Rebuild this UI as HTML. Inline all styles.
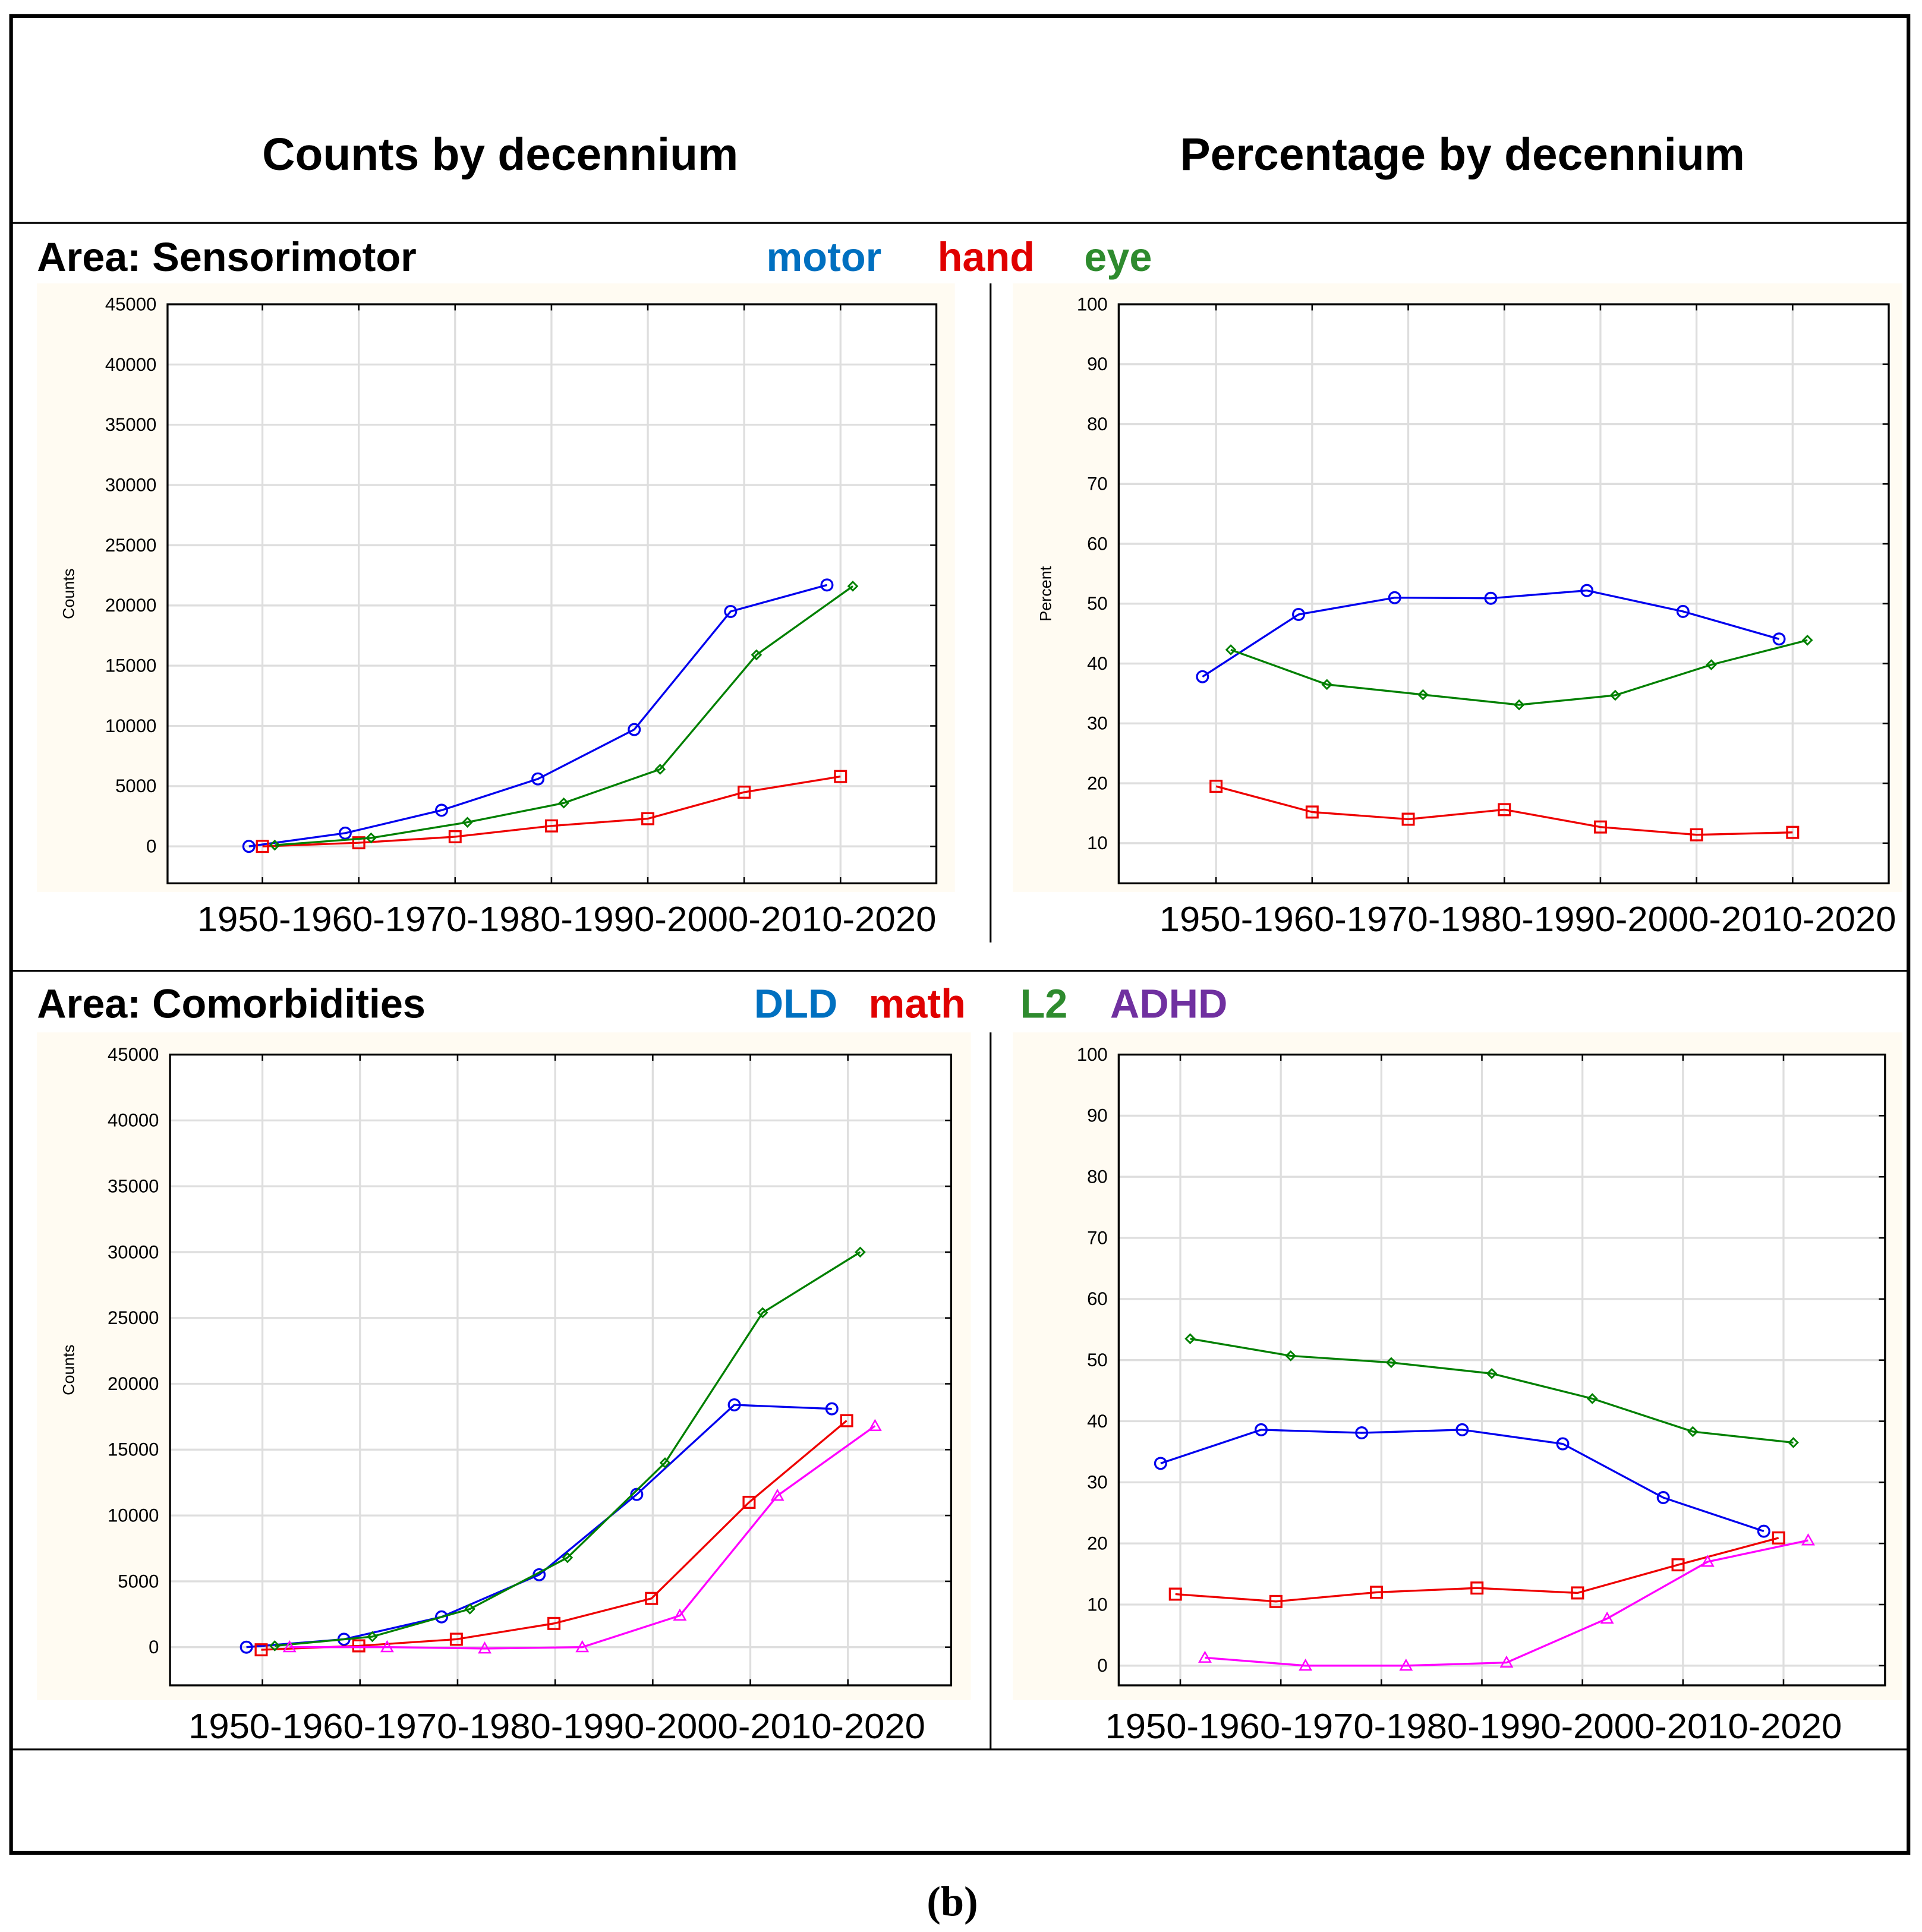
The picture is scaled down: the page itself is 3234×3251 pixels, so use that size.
<!DOCTYPE html>
<html><head><meta charset="utf-8"><style>
html,body{margin:0;padding:0;background:#fff}
svg{display:block}
text{font-family:"Liberation Sans",sans-serif}
.cal{font-family:"Liberation Sans",sans-serif;font-weight:bold}
</style></head><body>
<svg id="fig" xmlns="http://www.w3.org/2000/svg" width="3234" height="3251" viewBox="0 0 1560 1568.2">
<rect x="0" y="0" width="1560" height="1568.2" fill="#fff"/>
<rect x="9" y="13" width="1540" height="1491" fill="none" stroke="#000" stroke-width="3"/>
<line x1="9" y1="181" x2="1549" y2="181" stroke="#000" stroke-width="1.5"/>
<line x1="9" y1="788" x2="1549" y2="788" stroke="#000" stroke-width="1.5"/>
<line x1="9" y1="1420" x2="1549" y2="1420" stroke="#000" stroke-width="1.5"/>
<line x1="804" y1="230" x2="804" y2="765" stroke="#000" stroke-width="1.5"/>
<line x1="804" y1="838" x2="804" y2="1420" stroke="#000" stroke-width="1.5"/>
<text class="cal" x="406" y="138" font-size="37" text-anchor="middle">Counts by decennium</text>
<text class="cal" x="1187" y="138" font-size="37" text-anchor="middle">Percentage by decennium</text>
<text class="cal" x="30" y="220" font-size="33">Area: Sensorimotor</text>
<text class="cal" x="622" y="220" font-size="33" fill="#0070c0">motor</text>
<text class="cal" x="761" y="220" font-size="33" fill="#e00000">hand</text>
<text class="cal" x="880" y="220" font-size="33" fill="#2e8b2e">eye</text>
<text class="cal" x="30" y="826" font-size="33">Area: Comorbidities</text>
<text class="cal" x="612" y="826" font-size="33" fill="#0070c0">DLD</text>
<text class="cal" x="705" y="826" font-size="33" fill="#e00000">math</text>
<text class="cal" x="828" y="826" font-size="33" fill="#2e8b2e">L2</text>
<text class="cal" x="901" y="826" font-size="33" fill="#7030a0">ADHD</text>
<text x="773" y="1555" font-size="34" font-weight="bold" text-anchor="middle" style="font-family:'Liberation Serif',serif">(b)</text>
<g id="charts"></g>
</svg>
<script>
const decades = ["1950","1960","1970","1980","1990","2000","2010"];
const countTicks = [0,5000,10000,15000,20000,25000,30000,35000,40000,45000];
const pctTicks = [0,10,20,30,40,50,60,70,80,90,100];
const motorCounts = [0,1100,3000,5600,9700,19500,21700];
const handCounts = [0,300,800,1700,2300,4500,5800];
const eyeCounts = [100,700,2000,3600,6400,15900,21600];
const motorPct = [37.8,48.2,51,50.9,52.2,48.7,44.1];
const eyePct = [42.3,36.5,34.8,33.1,34.7,39.8,43.9];
const handPct = [19.5,15.2,14.0,15.6,12.7,11.4,11.8];
const dldCounts = [0,600,2300,5500,11600,18400,18100];
const mathCounts = [-200,100,600,1800,3700,11000,17200];
const l2Counts = [100,800,2900,6800,14000,25400,30000];
const adhdCounts = [0,0,-100,0,2400,11500,16800];
const l2Pct = [53.5,50.7,49.6,47.8,43.7,38.3,36.5];
const dldPct = [33.1,38.6,38.1,38.6,36.3,27.5,22.0];
const mathPct = [11.7,10.5,12.0,12.7,11.9,16.5,20.9];
const adhdPct = [1.3,0,0,0.5,7.7,17.0,20.5];
const xLabel = "1950-1960-1970-1980-1990-2000-2010-2020";

const NS="http://www.w3.org/2000/svg";
const root=document.getElementById('charts');
function mk(tag,attrs,parent){const e=document.createElementNS(NS,tag);for(const k in attrs)e.setAttribute(k,attrs[k]);(parent||root).appendChild(e);return e;}

function chart(cfg){
  const g=mk('g',{});
  
  
  const bg=mk('rect',{x:cfg.bg[0],y:cfg.bg[1],width:cfg.bg[2],height:cfg.bg[3],fill:'#fffbf2'},g);
  
  
  const [L,T,R,B]=cfg.frame;
  const yS=v=>cfg.y0+(v-cfg.t0)*(cfg.y1-cfg.y0)/(cfg.t1-cfg.t0);
  const xS=i=>cfg.x0+i*cfg.dx;
  mk('rect',{x:L,y:T,width:R-L,height:B-T,fill:'#fff'},g);
  cfg.ticks.forEach(t=>{
    const y=yS(t);
    if(y<T-0.5||y>B)return;
    const gl=mk('line',{x1:L,x2:R,y1:y,y2:y,stroke:'#dedede','stroke-width':1.6},g);
    
    
    mk('line',{x1:R-5,x2:R,y1:y,y2:y,stroke:'#000','stroke-width':1.2},g);
    const tl=mk('text',{x:L-9,y:y+5,'font-size':15,'text-anchor':'end'},g);
    tl.textContent=t;
    
    
  });
  decades.forEach((d,i)=>{
    const x=xS(i);
    const gl=mk('line',{x1:x,x2:x,y1:T,y2:B,stroke:'#dedede','stroke-width':1.6},g);
    
    
    mk('line',{x1:x,x2:x,y1:T,y2:T+5,stroke:'#000','stroke-width':1.2},g);
    mk('line',{x1:x,x2:x,y1:B-5,y2:B,stroke:'#000','stroke-width':1.2},g);
  });
  const fr=mk('rect',{x:L,y:T,width:R-L,height:B-T,fill:'none',stroke:'#000','stroke-width':1.6},g);
  
  
  if(cfg.ytitle){
    const yt=mk('text',{x:0,y:0,'font-size':13,'text-anchor':'middle',transform:`translate(${cfg.ytx},${(T+B)/2}) rotate(-90)`},g);
    yt.textContent=cfg.ytitle;
    
    
  }
  const xl=mk('text',{x:cfg.xl[0],y:cfg.xl[1],'font-size':28.5,textLength:cfg.xl[2],lengthAdjust:'spacingAndGlyphs'},g);
  xl.textContent=xLabel;
  
  
  cfg.series.forEach(s=>{
    const pts=s.data.map((v,i)=>[xS(i)+s.off,yS(v)]);
    const sg=mk('g',{},g);
    
    
    mk('polyline',{points:pts.map(p=>p.join(',')).join(' '),fill:'none',stroke:s.c,'stroke-width':1.6},sg);
    pts.forEach(([x,y])=>{
      let m;
      if(s.m==='o') m=mk('circle',{cx:x,cy:y,r:4.5,fill:'none',stroke:s.c,'stroke-width':1.6},sg);
      else if(s.m==='s') m=mk('rect',{x:x-4.5,y:y-4.5,width:9,height:9,fill:'none',stroke:s.c,'stroke-width':1.6},sg);
      else if(s.m==='d') m=mk('polygon',{points:`${x},${y-3.5} ${x+3.5},${y} ${x},${y+3.5} ${x-3.5},${y}`,fill:'none',stroke:s.c,'stroke-width':1.4},sg);
      else m=mk('polygon',{points:`${x},${y-4.5} ${x+4.5},${y+3.5} ${x-4.5},${y+3.5}`,fill:'none',stroke:s.c,'stroke-width':1.2},sg);
      
      
    });
  });
}
const BL='#0000ee',RD='#ee0000',GR='#008000',MG='#ff00ff';
chart({name:'chart-sensorimotor-counts',bg:[30,230,745,494],frame:[136,247,760,717],y0:687,y1:247,t0:0,t1:45000,ticks:countTicks,x0:213,dx:78.2,ytitle:'Counts',ytx:60,xl:[160,756,600],
 series:[{name:'motor',data:motorCounts,c:BL,m:'o',off:-11},{name:'hand',data:handCounts,c:RD,m:'s',off:0},{name:'eye',data:eyeCounts,c:GR,m:'d',off:10}]});
chart({name:'chart-sensorimotor-percent',bg:[822,230,722,494],frame:[908,247,1533,717],y0:733,y1:247,t0:0,t1:100,ticks:pctTicks,x0:987,dx:78,ytitle:'Percent',ytx:853,xl:[941,756,598],
 series:[{name:'motor',data:motorPct,c:BL,m:'o',off:-11},{name:'eye',data:eyePct,c:GR,m:'d',off:12},{name:'hand',data:handPct,c:RD,m:'s',off:0}]});
chart({name:'chart-comorbidities-counts',bg:[30,838,758,542],frame:[138,856,772,1368],y0:1337,y1:856,t0:0,t1:45000,ticks:countTicks,x0:213,dx:79.2,ytitle:'Counts',ytx:60,xl:[153,1411,598],
 series:[{name:'dld',data:dldCounts,c:BL,m:'o',off:-13},{name:'math',data:mathCounts,c:RD,m:'s',off:-1},{name:'l2',data:l2Counts,c:GR,m:'d',off:10},{name:'adhd',data:adhdCounts,c:MG,m:'t',off:22}]});
chart({name:'chart-comorbidities-percent',bg:[822,838,722,542],frame:[908,856,1530,1368],y0:1352,y1:856,t0:0,t1:100,ticks:pctTicks,x0:958,dx:81.6,ytitle:null,xl:[897,1411,598],
 series:[{name:'l2',data:l2Pct,c:GR,m:'d',off:8},{name:'dld',data:dldPct,c:BL,m:'o',off:-16},{name:'math',data:mathPct,c:RD,m:'s',off:-4},{name:'adhd',data:adhdPct,c:MG,m:'t',off:20}]});
</script>
</body></html>
